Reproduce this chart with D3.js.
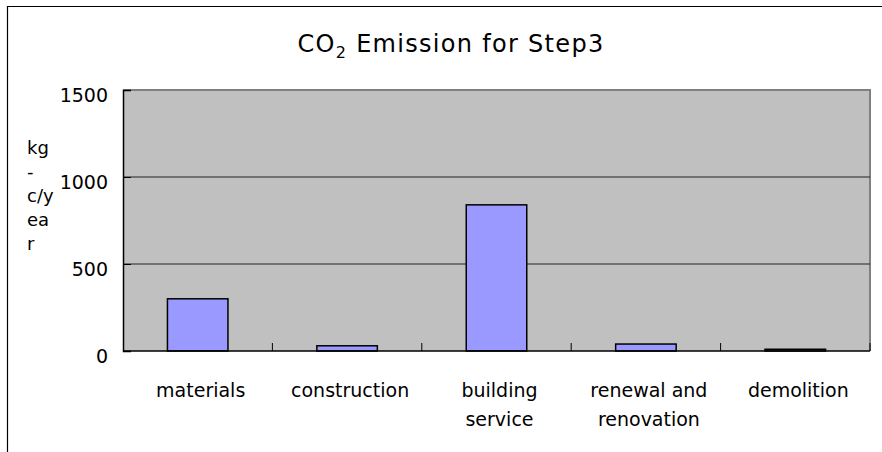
<!DOCTYPE html>
<html>
<head>
<meta charset="utf-8">
<script src="https://cdn.jsdelivr.net/npm/d3@7"></script>
<style>
  body { margin: 0; background: #fff; }
  svg { display: block; font-family: 'DejaVu Sans', sans-serif; }
</style>
</head>
<body>
<svg id="chart" width="882" height="452"></svg>
<script>
// chart data
var categories = ['materials', 'construction', 'building service', 'renewal and renovation', 'demolition']
var labelLines = [['materials'], ['construction'], ['building', 'service'], ['renewal and', 'renovation'], ['demolition']]
var values = [300, 30, 840, 40, 10]
var yTicks = [0, 500, 1000, 1500]
var yLabelLines = ['kg', '-', 'c/y', 'ea', 'r']

var svg = d3.select('#chart')
var plot = { left: 123, right: 870, top: 90, bottom: 351 }

// outer chart border (only top and left are in view)
svg.append('path')
  .attr('d', 'M7.5,452 V6.5 H882')
  .attr('fill', 'none')
  .attr('stroke', '#000')
  .attr('stroke-width', 1.2)

var x = d3.scaleBand().domain(categories).range([plot.left, plot.right]).padding(0)
var y = d3.scaleLinear().domain([0, 1500]).range([plot.bottom, plot.top])

// plot background
svg.append('rect')
  .attr('x', plot.left).attr('y', plot.top)
  .attr('width', plot.right - plot.left).attr('height', plot.bottom - plot.top)
  .attr('fill', '#c0c0c0')

// top and right frame (grey)
svg.append('path')
  .attr('d', 'M' + plot.left + ',' + plot.top + ' H' + plot.right + ' V' + plot.bottom)
  .attr('fill', 'none')
  .attr('stroke', '#808080')
  .attr('stroke-width', 2)

// gridlines
svg.selectAll('.grid')
  .data(yTicks.filter(function (d) { return d > 0 && d < 1500 }))
  .enter()
  .append('line')
  .attr('class', 'grid')
  .attr('x1', plot.left).attr('x2', plot.right)
  .attr('y1', function (d) { return y(d) }).attr('y2', function (d) { return y(d) })
  .attr('stroke', '#222')
  .attr('stroke-width', 1)

// bars
var barW = x.bandwidth() * 0.405
svg.selectAll('.bar')
  .data(values)
  .enter()
  .append('rect')
  .attr('class', 'bar')
  .attr('x', function (d, i) { return x(categories[i]) + x.bandwidth() / 2 - barW / 2 })
  .attr('y', function (d) { return y(d) })
  .attr('width', barW)
  .attr('height', function (d) { return y(0) - y(d) })
  .attr('fill', '#9999ff')
  .attr('stroke', '#000')
  .attr('stroke-width', 1.5)

// y axis
var yAxis = d3.axisLeft(y).tickValues(yTicks).tickFormat(d3.format('d')).tickSize(-8).tickPadding(15)
var gy = svg.append('g')
  .attr('transform', 'translate(' + plot.left + ',0)')
  .call(yAxis)
gy.select('.domain').attr('stroke', '#000').attr('stroke-width', 1.5)
gy.selectAll('.tick line').attr('stroke', '#000')
gy.selectAll('.tick text')
  .attr('font-family', 'DejaVu Sans')
  .attr('font-size', 19)
  .attr('fill', '#000')
  .attr('dy', '0.62em')

// x axis with inward ticks at category boundaries
svg.append('line')
  .attr('x1', plot.left).attr('x2', plot.right)
  .attr('y1', plot.bottom).attr('y2', plot.bottom)
  .attr('stroke', '#000').attr('stroke-width', 1.5)

var bounds = categories.map(function (c) { return x(c) + x.bandwidth() })
svg.selectAll('.xtick')
  .data(bounds)
  .enter()
  .append('line')
  .attr('class', 'xtick')
  .attr('x1', function (d) { return d }).attr('x2', function (d) { return d })
  .attr('y1', plot.bottom).attr('y2', plot.bottom - 8)
  .attr('stroke', '#000').attr('stroke-width', 1)

// category labels
svg.selectAll('.xlabel')
  .data(categories)
  .enter()
  .append('text')
  .attr('class', 'xlabel')
  .attr('text-anchor', 'middle')
  .attr('font-size', 19)
  .attr('fill', '#000')
  .each(function (d, i) {
    var t = d3.select(this)
    labelLines[i].forEach(function (line, j) {
      t.append('tspan')
        .attr('x', x(d) + x.bandwidth() / 2 + 3)
        .attr('y', plot.bottom + 46 + j * 29)
        .text(line)
    })
  })

// y axis title, broken into narrow lines
svg.append('text')
  .attr('font-size', 18)
  .attr('fill', '#000')
  .selectAll('tspan')
  .data(yLabelLines)
  .enter()
  .append('tspan')
  .attr('x', 27)
  .attr('y', function (d, i) { return 154 + i * 24 })
  .text(function (d) { return d })

// title with subscript
var title = svg.append('text')
  .attr('x', 451)
  .attr('y', 52)
  .attr('text-anchor', 'middle')
  .attr('font-size', 24)
  .attr('letter-spacing', 1.3)
  .attr('fill', '#000')
title.append('tspan').text('CO')
title.append('tspan').attr('font-size', 16).attr('dy', 6).text('2')
title.append('tspan').attr('dy', -6).text(' Emission for Step3')
</script>
</body>
</html>
